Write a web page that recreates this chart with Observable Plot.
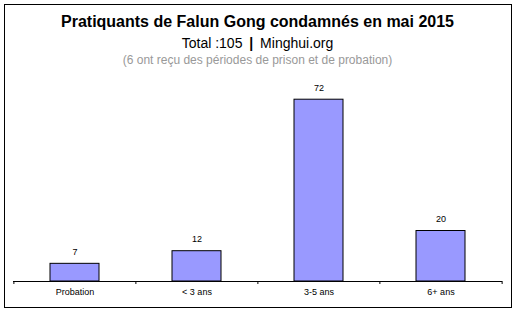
<!DOCTYPE html>
<html><head><meta charset="utf-8">
<script src="https://cdn.jsdelivr.net/npm/d3@7"></script>
<script src="https://cdn.jsdelivr.net/npm/@observablehq/plot@0.6"></script>
<style>
body{margin:0;background:#fff;font-family:"Liberation Sans",Arial,sans-serif;}
#wrap{position:relative;width:515px;height:312px;overflow:hidden;}
#frame{position:absolute;left:4px;top:4px;width:506px;height:302px;border:1px solid #000;box-sizing:content-box;pointer-events:none;}
.t{position:absolute;left:0;width:515px;text-align:center;white-space:nowrap;}
#t1{top:12px;font-size:16px;font-weight:bold;color:#000;line-height:19px;}
#t2{top:35px;font-size:14px;color:#000;line-height:17px;}
#t3{top:53px;font-size:12px;color:#999;line-height:14px;}
#t2 b{margin:0 3px;}
#chart{position:absolute;left:0;top:0;}
</style></head>
<body><div id="wrap"><div id="chart"></div>
<div class="t" id="t1"></div><div class="t" id="t2"></div><div class="t" id="t3"></div>
<div id="frame"></div></div>
<script>
const title = "Pratiquants de Falun Gong condamnés en mai 2015";
const subtitleLeft = "Total :105";
const subtitleRight = "Minghui.org";
const note = "(6 ont reçu des périodes de prison et de probation)";
const categories = ["Probation", "< 3 ans", "3-5 ans", "6+ ans"];
const values = [7, 12, 72, 20];

document.getElementById("t1").textContent = title;
const t2 = document.getElementById("t2");
t2.append(subtitleLeft + " ");
const b = document.createElement("b"); b.textContent = "|"; t2.append(b);
t2.append(" " + subtitleRight);
document.getElementById("t3").textContent = note;

const data = categories.map((c, i) => ({cat: c, v: values[i]}));
const W = 515, H = 312, mL = 13, mR = 13;
const step = (W - mL - mR) / categories.length;

const plot = Plot.plot({
  width: W, height: H,
  marginLeft: mL, marginRight: mR, marginTop: 79, marginBottom: 31,
  style: {fontFamily: "'Liberation Sans', Arial, sans-serif", background: "transparent", overflow: "visible"},
  x: {domain: categories, paddingInner: 0.6, paddingOuter: 0.3, label: null},
  y: {domain: [0, 80], axis: null},
  marks: [
    Plot.barY(data, {x: "cat", y: "v", fill: "#9999ff", stroke: "#000", strokeWidth: 1}),
    Plot.text(data, {x: "cat", y: "v", text: d => String(d.v), dy: -12, fontSize: 9, fill: "#000"}),
    Plot.ruleY([0], {stroke: "#000", strokeWidth: 1}),
    Plot.ruleX(categories, {x: d => d, dx: -step / 2, y1: 0, y2: 0, insetBottom: -3, stroke: "#000"}),
    Plot.ruleX([categories[categories.length - 1]], {x: d => d, dx: step / 2, y1: 0, y2: 0, insetBottom: -3, stroke: "#000"}),
    Plot.axisX({tickSize: 0, tickPadding: 7, fontSize: 9, fill: "#000", label: null})
  ]
});
document.getElementById("chart").append(plot);
</script></body></html>
